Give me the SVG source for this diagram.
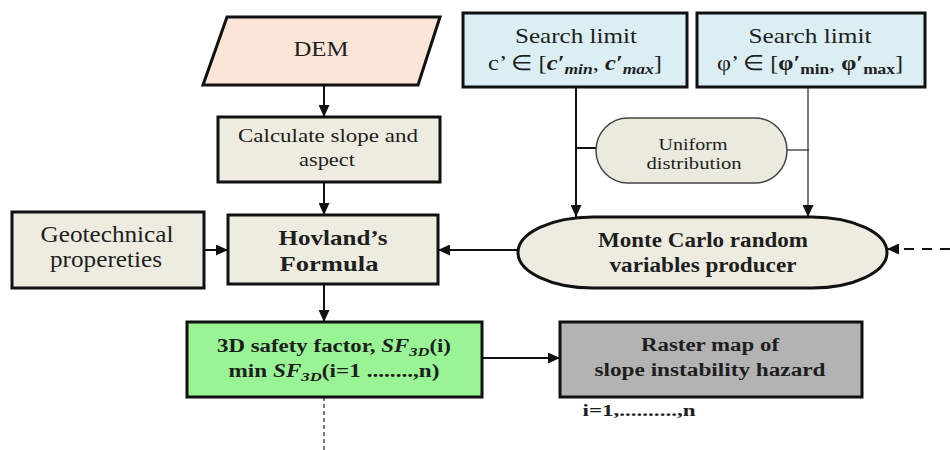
<svg xmlns="http://www.w3.org/2000/svg" width="950" height="450" viewBox="0 0 950 450">
  <style>
    text { font-family: "Liberation Serif", "Times New Roman", serif; fill: #1e1e1e; text-anchor: middle; }
    .b { font-weight: bold; }
    .bi { font-weight: bold; font-style: italic; }
    .box { stroke: #111; stroke-width: 3; }
    .beige { fill: #eeece1; }
    .blue { fill: #dbeef3; }
    .link { fill: none; stroke: #111; stroke-width: 2; }
    .thin { fill: none; stroke: #333; stroke-width: 1.3; }
  </style>
  <defs>
    <marker id="arrow" markerUnits="userSpaceOnUse" markerWidth="12" markerHeight="11" refX="12" refY="5.5" orient="auto">
      <path d="M0,0 L12,5.5 L0,11 z" fill="#111"/>
    </marker>
  </defs>

  <rect width="950" height="450" fill="#ffffff"/>

  <!-- connectors -->
  <g id="connectors">
    <path class="link" d="M324,85 V117" marker-end="url(#arrow)"/>
    <path class="link" d="M324,182 V215" marker-end="url(#arrow)"/>
    <path class="link" d="M324,284 V322" marker-end="url(#arrow)"/>
    <path class="link" d="M204,250 H228" marker-end="url(#arrow)"/>
    <path class="link" d="M518,250 H438" marker-end="url(#arrow)"/>
    <path class="link" d="M482,358 H560" marker-end="url(#arrow)"/>
    <path class="link" d="M576,87 V217" stroke-width="2.5" marker-end="url(#arrow)"/>
    <path class="thin" d="M808,87 V217" stroke-width="1.6" marker-end="url(#arrow)"/>
    <path class="link" d="M576,148 H596"/>
    <path class="thin" d="M787,150 H809"/>
    <path class="link" d="M950,249 H887" stroke-dasharray="10,8" marker-end="url(#arrow)"/>
    <path class="thin" d="M324,397 V450" stroke="#222" stroke-width="1.2" stroke-dasharray="4,3"/>
  </g>

  <!-- input DEM -->
  <g id="dem">
    <polygon class="box" points="227,17 440,17 418,85 203,85" fill="#fbe5d6" stroke-width="2.5"/>
    <text x="321" y="56" font-size="22" textLength="55" lengthAdjust="spacingAndGlyphs">DEM</text>
  </g>

  <g id="calc-slope">
    <rect class="box beige" x="218" y="117" width="222" height="65"/>
    <text x="328" y="142" font-size="18" textLength="180" lengthAdjust="spacingAndGlyphs">Calculate slope and</text>
    <text x="327" y="166" font-size="18" textLength="56" lengthAdjust="spacingAndGlyphs">aspect</text>
  </g>

  <g id="geotechnical">
    <rect class="box beige" x="12" y="212" width="192" height="76"/>
    <text x="107" y="242" font-size="23" textLength="133" lengthAdjust="spacingAndGlyphs">Geotechnical</text>
    <text x="106" y="267" font-size="23" textLength="112" lengthAdjust="spacingAndGlyphs">propereties</text>
  </g>

  <g id="hovland">
    <rect class="box beige" x="228" y="215" width="210" height="69"/>
    <text class="b" x="333" y="245" font-size="21" textLength="109" lengthAdjust="spacingAndGlyphs">Hovland’s</text>
    <text class="b" x="329" y="271" font-size="21" textLength="99" lengthAdjust="spacingAndGlyphs">Formula</text>
  </g>

  <g id="search-c">
    <rect class="box blue" x="463" y="13" width="224" height="74"/>
    <text x="576" y="43" font-size="21" textLength="122" lengthAdjust="spacingAndGlyphs">Search limit</text>
    <text x="575" y="70" font-size="21" textLength="174" lengthAdjust="spacingAndGlyphs">c’ ∈ [<tspan class="bi">c′</tspan><tspan class="bi" font-size="15" dy="4">min</tspan><tspan dy="-4">, </tspan><tspan class="bi">c′</tspan><tspan class="bi" font-size="15" dy="4">max</tspan><tspan dy="-4">]</tspan></text>
  </g>

  <g id="search-phi">
    <rect class="box blue" x="697" y="13" width="228" height="74"/>
    <text x="810" y="43" font-size="21" textLength="123" lengthAdjust="spacingAndGlyphs">Search limit</text>
    <text x="810" y="70" font-size="21" textLength="186" lengthAdjust="spacingAndGlyphs">φ’ ∈ [<tspan class="b">φ′</tspan><tspan class="b" font-size="15" dy="4">min</tspan><tspan dy="-4">, </tspan><tspan class="b">φ′</tspan><tspan class="b" font-size="15" dy="4">max</tspan><tspan dy="-4">]</tspan></text>
  </g>

  <g id="uniform">
    <rect x="596" y="118" width="191" height="65" rx="32" ry="32.5" fill="#ebeadf" stroke="#444" stroke-width="1.5"/>
    <text x="693" y="150" font-size="16" textLength="69" lengthAdjust="spacingAndGlyphs">Uniform</text>
    <text x="694" y="169" font-size="16" textLength="95" lengthAdjust="spacingAndGlyphs">distribution</text>
  </g>

  <g id="monte-carlo">
    <rect class="box beige" x="518" y="217" width="369" height="71" rx="75" ry="35.5"/>
    <text class="b" x="703" y="247" font-size="20" textLength="210" lengthAdjust="spacingAndGlyphs">Monte Carlo random</text>
    <text class="b" x="703" y="272" font-size="20" textLength="187" lengthAdjust="spacingAndGlyphs">variables producer</text>
  </g>

  <g id="safety-factor">
    <rect class="box" x="187" y="322" width="295" height="75" fill="#98f495"/>
    <text class="b" x="334" y="352" font-size="18" textLength="234" lengthAdjust="spacingAndGlyphs">3D safety factor, <tspan class="bi">SF</tspan><tspan class="bi" font-size="13" dy="4">3D</tspan><tspan dy="-4">(i)</tspan></text>
    <text class="b" x="334" y="377" font-size="18" textLength="211" lengthAdjust="spacingAndGlyphs">min <tspan class="bi">SF</tspan><tspan class="bi" font-size="13" dy="4">3D</tspan><tspan dy="-4">(i=1 ........,n)</tspan></text>
  </g>

  <g id="raster-map">
    <rect class="box" x="560" y="322" width="302" height="75" fill="#b3b3b3"/>
    <text class="b" x="710" y="351" font-size="18" textLength="138" lengthAdjust="spacingAndGlyphs">Raster map of</text>
    <text class="b" x="710" y="376" font-size="18" textLength="231" lengthAdjust="spacingAndGlyphs">slope instability hazard</text>
  </g>

  <text class="b" x="639" y="416" font-size="17" textLength="113" lengthAdjust="spacingAndGlyphs">i=1,..........,n</text>
</svg>
